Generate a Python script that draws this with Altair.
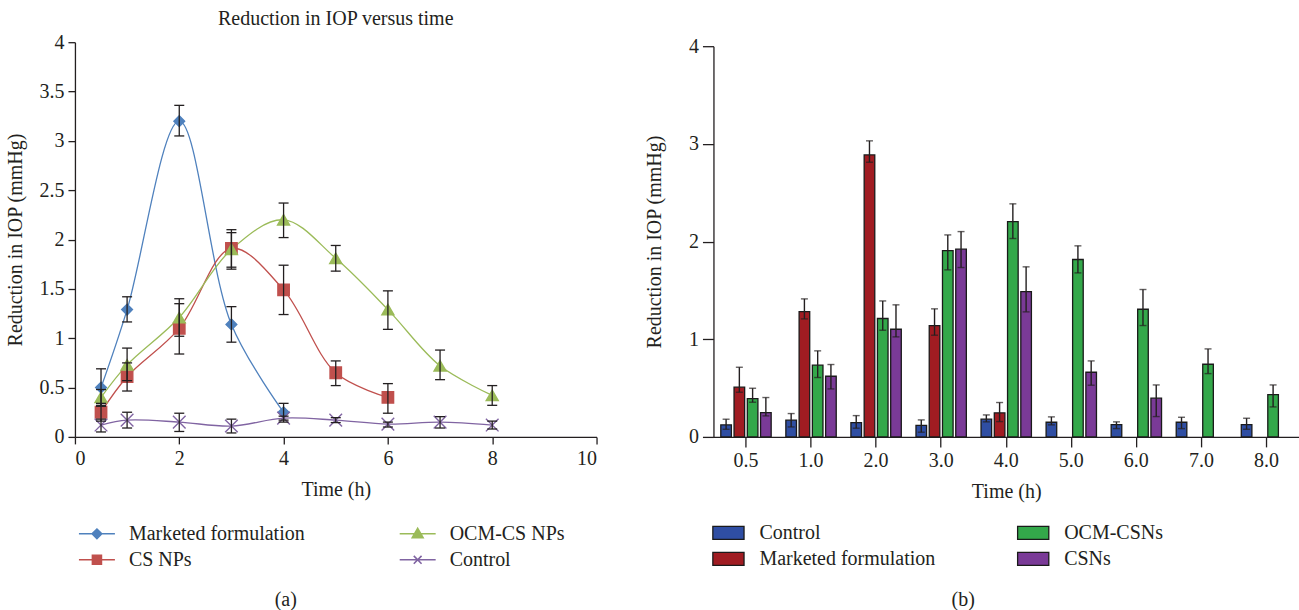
import altair as alt
import pandas as pd

FONT = "Liberation Serif"
INK = "#231f20"
FS = 20

# ---------------- panel (a): line chart ----------------
# legend fills column by column: col 1 = first two entries, col 2 = last two
legend_order_a = ["Marketed formulation", "CS NPs", "OCM-CS NPs", "Control"]
colors_a = ["#4f81bd", "#c0504d", "#9bbb59", "#8064a2"]
point_shapes_a = ["diamond", "square", "triangle-up", "M-1,-1L1,1M-1,1L1,-1"]
point_sizes_a = [115, 160, 180, 110]
legend_shapes_a = [
    "M-3,0H3M0,-0.8L0.8,0L0,0.8L-0.8,0Z",
    "M-3,0H3M-0.75,-0.75H0.75V0.75H-0.75Z",
    "M-3,0H3M0,-0.9L0.9,0.65H-0.9Z",
    "M-3,0H3M-0.65,-0.65L0.65,0.65M-0.65,0.65L0.65,-0.65",
]

time_mf = [0.5, 1, 2, 3, 4]
val_mf = [0.50, 1.29, 3.20, 1.14, 0.25]
hi_mf = [0.69, 1.42, 3.36, 1.32, 0.34]
lo_mf = [0.31, 1.165, 3.05, 0.96, 0.17]

time_cs = [0.5, 1, 2, 3, 4, 5, 6]
val_cs = [0.25, 0.61, 1.10, 1.91, 1.49, 0.65, 0.40]
hi_cs = [0.34, 0.75, 1.35, 2.10, 1.74, 0.77, 0.54]
lo_cs = [0.16, 0.465, 0.84, 1.70, 1.24, 0.52, 0.24]

time_ocm = [0.5, 1, 2, 3, 4, 5, 6, 7, 8]
val_ocm = [0.40, 0.73, 1.21, 1.90, 2.20, 1.81, 1.29, 0.72, 0.42]
hi_ocm = [0.48, 0.90, 1.40, 2.07, 2.37, 1.94, 1.48, 0.88, 0.52]
lo_ocm = [0.32, 0.57, 1.02, 1.72, 2.02, 1.68, 1.09, 0.58, 0.32]

time_ctl = [0.5, 1, 2, 3, 4, 5, 6, 7, 8]
val_ctl = [0.12, 0.17, 0.15, 0.11, 0.19, 0.17, 0.13, 0.15, 0.12]
hi_ctl = [0.18, 0.25, 0.24, 0.18, 0.21, 0.195, 0.15, 0.205, 0.16]
lo_ctl = [0.05, 0.09, 0.055, 0.04, 0.15, 0.145, 0.10, 0.09, 0.08]

x_ticks_a = [0, 2, 4, 6, 8, 10]
y_ticks_a = [0, 0.5, 1, 1.5, 2, 2.5, 3, 3.5, 4]

# ---------------- panel (b): grouped bars ----------------
time_labels_b = ["0.5", "1.0", "2.0", "3.0", "4.0", "5.0", "6.0", "7.0", "8.0"]
bar_order_b = ["Control", "Marketed formulation", "OCM-CSNs", "CSNs"]
colors_b = ["#2f4ea3", "#a01c22", "#33a84a", "#7a3a97"]

ctl_b = [0.123, 0.171, 0.147, 0.119, 0.181, 0.150, 0.126, 0.150, 0.126]
ctl_b_hi = [0.181, 0.239, 0.218, 0.174, 0.225, 0.205, 0.154, 0.201, 0.191]
ctl_b_lo = [0.078, 0.102, 0.089, 0.048, 0.154, 0.123, 0.085, 0.085, 0.078]

mkt_b = [0.509, 1.283, 2.887, 1.140, 0.246]
mkt_b_hi = [0.713, 1.413, 3.031, 1.311, 0.352]
mkt_b_lo = [0.457, 1.208, 2.812, 1.041, 0.157]

ocm_b = [0.392, 0.734, 1.212, 1.908, 2.205, 1.816, 1.307, 0.744, 0.433]
ocm_b_hi = [0.498, 0.881, 1.392, 2.068, 2.386, 1.956, 1.509, 0.901, 0.532]
ocm_b_lo = [0.355, 0.608, 1.092, 1.710, 2.031, 1.679, 1.140, 0.648, 0.307]

csn_b = [0.249, 0.621, 1.102, 1.922, 1.488, 0.662, 0.396]
csn_b_hi = [0.403, 0.741, 1.352, 2.102, 1.741, 0.778, 0.532]
csn_b_lo = [0.215, 0.491, 1.024, 1.734, 1.280, 0.529, 0.208]

y_ticks_b = [0, 1, 2, 3, 4]


def frame(name, t, v, hi, lo):
    return pd.DataFrame({"series": name, "time": t, "value": v, "hi": hi, "lo": lo})


df_a = pd.concat([
    frame("Marketed formulation", time_mf, val_mf, hi_mf, lo_mf),
    frame("CS NPs", time_cs, val_cs, hi_cs, lo_cs),
    frame("OCM-CS NPs", time_ocm, val_ocm, hi_ocm, lo_ocm),
    frame("Control", time_ctl, val_ctl, hi_ctl, lo_ctl),
], ignore_index=True)

df_b = pd.concat([
    frame("Control", time_labels_b, ctl_b, ctl_b_hi, ctl_b_lo),
    frame("Marketed formulation", time_labels_b[:len(mkt_b)], mkt_b, mkt_b_hi, mkt_b_lo),
    frame("OCM-CSNs", time_labels_b, ocm_b, ocm_b_hi, ocm_b_lo),
    frame("CSNs", time_labels_b[:len(csn_b)], csn_b, csn_b_hi, csn_b_lo),
], ignore_index=True)

# ---------------- build panel (a) ----------------
xa = alt.X("time:Q", scale=alt.Scale(domain=[0, 10], nice=False),
           axis=alt.Axis(values=x_ticks_a, title="Time (h)", tickSize=7,
                         labelPadding=5, titlePadding=11))
ya = alt.Y("value:Q", scale=alt.Scale(domain=[0, 4], nice=False),
           axis=alt.Axis(values=y_ticks_a, format="~g", title="Reduction in IOP (mmHg)",
                         tickSize=7, labelPadding=4, titlePadding=13))
stroke_a = alt.Stroke("series:N", scale=alt.Scale(domain=legend_order_a, range=colors_a), legend=None)
fill_a = alt.Fill("series:N", scale=alt.Scale(domain=legend_order_a, range=colors_a), legend=None)

base_a = alt.Chart(df_a)

lines_a = base_a.mark_line(interpolate="catmull-rom", strokeWidth=1.3).encode(
    x=xa, y=ya, stroke=stroke_a, detail="series:N")

points_a = base_a.mark_point(filled=True, opacity=1, strokeWidth=1.4).encode(
    x="time:Q", y="value:Q", fill=fill_a, stroke=stroke_a,
    shape=alt.Shape("series:N", scale=alt.Scale(domain=legend_order_a, range=point_shapes_a), legend=None),
    size=alt.Size("series:N", scale=alt.Scale(domain=legend_order_a, range=point_sizes_a), legend=None))

err_a = base_a.mark_rule(color=INK, strokeWidth=1.3).encode(x="time:Q", y="lo:Q", y2="hi:Q")
cap_hi_a = base_a.mark_rule(color=INK, strokeWidth=1.3, xOffset=-5, x2Offset=5).encode(
    x="time:Q", x2="time:Q", y="hi:Q")
cap_lo_a = base_a.mark_rule(color=INK, strokeWidth=1.3, xOffset=-5, x2Offset=5).encode(
    x="time:Q", x2="time:Q", y="lo:Q")

legend_a = base_a.transform_calculate(lg="datum.series").mark_point(
    filled=True, opacity=0).encode(
    x="time:Q", y="value:Q",
    shape=alt.Shape("lg:N", scale=alt.Scale(domain=legend_order_a, range=legend_shapes_a),
                    legend=alt.Legend(title=None, orient="none", legendX=12, legendY=482,
                                      columns=2, columnPadding=90, rowPadding=6,
                                      symbolSize=144, symbolStrokeWidth=1.6, symbolOpacity=1,
                                      labelOffset=22, labelFont=FONT, labelFontSize=FS,
                                      labelColor=INK, labelLimit=400, padding=0)),
    fill=alt.Fill("lg:N", scale=alt.Scale(domain=legend_order_a, range=colors_a)),
    stroke=alt.Stroke("lg:N", scale=alt.Scale(domain=legend_order_a, range=colors_a)))

label_a = alt.Chart(pd.DataFrame({"lab": ["(a)"]})).mark_text(
    font=FONT, fontSize=FS, color=INK).encode(
    text="lab:N", x=alt.value(211), y=alt.value(558))

panel_a = alt.layer(lines_a, points_a, err_a, cap_hi_a, cap_lo_a, legend_a, label_a).resolve_scale(
    shape="independent", fill="independent", stroke="independent", size="independent"
).properties(
    width=522, height=395,
    title=alt.TitleParams("Reduction in IOP versus time", font=FONT, fontSize=FS,
                          fontWeight="normal", color=INK, offset=3))

# ---------------- build panel (b) ----------------
xb = alt.X("time:N", sort=time_labels_b,
           scale=alt.Scale(paddingInner=0.185, paddingOuter=0.0925),
           axis=alt.Axis(title="Time (h)", labelAngle=0, tickSize=10, labelPadding=4,
                         titlePadding=11))
yb = alt.Y("value:Q", scale=alt.Scale(domain=[0, 4], nice=False, range=[395, 4]),
           axis=alt.Axis(values=y_ticks_b, format="d", title="Reduction in IOP (mmHg)",
                         tickSize=11, labelPadding=4, titlePadding=24))
off_b = alt.XOffset("series:N", sort=bar_order_b,
                    scale=alt.Scale(domain=bar_order_b, paddingInner=0.2, paddingOuter=0.1))

base_b = alt.Chart(df_b)
bars_b = base_b.mark_bar(stroke="#1a1a1a", strokeWidth=1.3).encode(
    x=xb, y=yb, xOffset=off_b,
    fill=alt.Fill("series:N", scale=alt.Scale(domain=bar_order_b, range=colors_b),
                  legend=alt.Legend(title=None, orient="none", legendX=644, legendY=481,
                                    columns=2, columnPadding=78, rowPadding=6,
                                    symbolType="M-2.4,-1H2.4V1H-2.4Z", symbolSize=169,
                                    symbolStrokeColor="#1a1a1a", symbolStrokeWidth=1.3,
                                    labelOffset=21, labelFont=FONT, labelFontSize=FS,
                                    labelColor=INK, labelLimit=400, padding=0)))
err_b = base_b.mark_rule(color=INK, strokeWidth=1.4).encode(
    x=xb, xOffset=off_b, y="lo:Q", y2="hi:Q")
cap_hi_b = base_b.mark_tick(color=INK, thickness=1.4, size=7, orient="horizontal").encode(
    x=xb, xOffset=off_b, y="hi:Q")
cap_lo_b = base_b.mark_tick(color=INK, thickness=1.4, size=7, orient="horizontal").encode(
    x=xb, xOffset=off_b, y="lo:Q")

label_b = alt.Chart(pd.DataFrame({"lab": ["(b)"]})).mark_text(
    font=FONT, fontSize=FS, color=INK).encode(
    text="lab:N", x=alt.value(250), y=alt.value(558))

panel_b = alt.layer(bars_b, err_b, cap_hi_b, cap_lo_b, label_b).properties(width=586, height=395)

chart = alt.hconcat(panel_a, panel_b, spacing=117, bounds="flush").properties(
    padding={"left": 6, "top": 9, "right": 0, "bottom": 0},
    background="white"
).configure_view(stroke=None).configure_axis(
    grid=False, domainColor=INK, domainWidth=1.3, tickColor=INK, tickWidth=1.3,
    labelFont=FONT, labelFontSize=FS, labelColor=INK,
    titleFont=FONT, titleFontSize=FS, titleFontWeight="normal", titleColor=INK
)

chart.save("out.html", embed_options={"renderer": "svg", "actions": False})
